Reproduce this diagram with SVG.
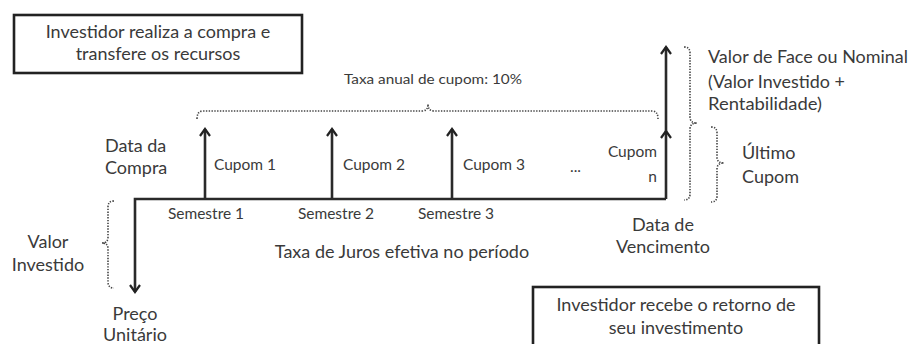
<svg xmlns="http://www.w3.org/2000/svg" width="912" height="344" viewBox="0 0 912 344">
<defs>
<marker id="ah" viewBox="0 0 12 12" refX="10" refY="6" markerWidth="12" markerHeight="12" markerUnits="userSpaceOnUse" orient="auto">
<path d="M3,1 L10,6 L3,11" fill="none" stroke="#222" stroke-width="2.2"/>
</marker>
</defs>
<style>
text{font-family:Lato,"Open Sans","Liberation Sans",sans-serif;fill:#3a3a3a;font-size:18px}
.sm{font-size:15.5px}
.xs{font-size:14px}
.box{fill:#fff;stroke:#222;stroke-width:2.6}
.ax{fill:none;stroke:#2a2a2a;stroke-width:2.6}
.dot{fill:none;stroke:#444;stroke-width:1.6;stroke-dasharray:1.4 1.4}
.c{text-anchor:middle}
.r{text-anchor:end}
</style>
<rect width="912" height="344" fill="#fff"/>

<g id="connectors">
<path class="ax" d="M666,199 L135,199 L135,292" marker-end="url(#ah)"/>
<line class="ax" x1="205" y1="199" x2="205" y2="129" marker-end="url(#ah)"/>
<line class="ax" x1="332" y1="199" x2="332" y2="129" marker-end="url(#ah)"/>
<line class="ax" x1="452" y1="199" x2="452" y2="129" marker-end="url(#ah)"/>
<line class="ax" x1="666" y1="199" x2="666" y2="131" marker-end="url(#ah)"/>
<line class="ax" x1="666" y1="131" x2="666" y2="47" marker-end="url(#ah)"/>
</g>

<g id="braces">
<path class="dot" d="M197,119 Q197,111 203,111 L422,111 Q428,111 428,104 Q428,111 434,111 L652,111 Q658,111 658,119"/>
<path class="dot" d="M684,47 Q690,47 690,53 L690,117 Q690,123 697,123 Q690,123 690,129 L690,194 Q690,200 684,200"/>
<path class="dot" d="M711,127 Q717,127 717,133 L717,157 Q717,163 724,163 Q717,163 717,169 L717,196 Q717,202 711,202"/>
<path class="dot" d="M114,201 Q108,201 108,207 L108,237 Q108,243 102,243 Q108,243 108,249 L108,282 Q108,288 114,288"/>
</g>

<g id="box-compra">
<rect class="box" x="14" y="15" width="288" height="58"/>
<text class="c" x="158" y="38">Investidor realiza a compra e</text>
<text class="c" x="158" y="60">transfere os recursos</text>
</g>

<g id="box-retorno">
<rect class="box" x="533" y="287" width="286" height="80"/>
<text class="c" x="676" y="311">Investidor recebe o retorno de</text>
<text class="c" x="676" y="334">seu investimento</text>
</g>

<g id="taxa-cupom"><text class="xs c" x="433" y="84" textLength="178" lengthAdjust="spacingAndGlyphs">Taxa anual de cupom: 10%</text></g>
<g id="data-compra">
<text x="105" y="152">Data da</text>
<text x="105" y="174">Compra</text>
</g>
<g id="cupom1"><text class="sm" x="214" y="170">Cupom 1</text></g>
<g id="cupom2"><text class="sm" x="343" y="170">Cupom 2</text></g>
<g id="cupom3"><text class="sm" x="463" y="170">Cupom 3</text></g>
<g id="dots"><text class="sm" x="570" y="172">...</text></g>
<g id="cupomn">
<text class="sm r" x="657" y="157">Cupom</text>
<text class="sm r" x="657" y="182">n</text>
</g>
<g id="semestres">
<text class="sm c" x="206" y="219">Semestre 1</text>
<text class="sm c" x="336" y="219">Semestre 2</text>
<text class="sm c" x="456" y="219">Semestre 3</text>
</g>
<g id="taxa-juros"><text class="c" x="402" y="258">Taxa de Juros efetiva no período</text></g>
<g id="vencimento">
<text class="c" x="663" y="231">Data de</text>
<text class="c" x="663" y="253">Vencimento</text>
</g>
<g id="valor-investido">
<text class="c" x="48" y="248">Valor</text>
<text class="c" x="48" y="271">Investido</text>
</g>
<g id="preco">
<text class="c" x="135" y="320">Preço</text>
<text class="c" x="135" y="341">Unitário</text>
</g>
<g id="valor-face">
<text x="708" y="63" textLength="200" lengthAdjust="spacingAndGlyphs">Valor de Face ou Nominal</text>
<text x="708" y="88" textLength="137" lengthAdjust="spacingAndGlyphs">(Valor Investido +</text>
<text x="708" y="110" textLength="114" lengthAdjust="spacingAndGlyphs">Rentabilidade)</text>
</g>
<g id="ultimo-cupom">
<text x="742" y="159">Último</text>
<text x="742" y="183">Cupom</text>
</g>
</svg>
